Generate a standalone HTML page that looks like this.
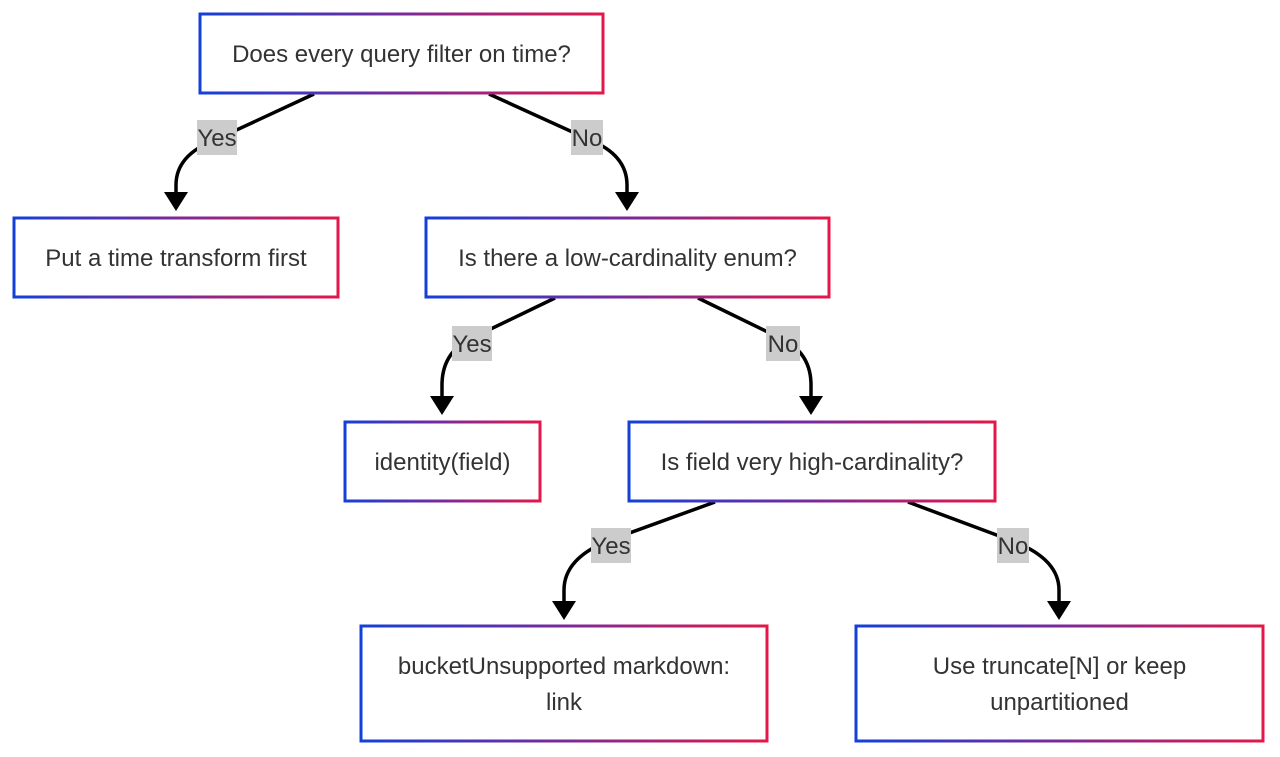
<!DOCTYPE html>
<html><head><meta charset="utf-8"><style>
html,body{margin:0;padding:0;background:#fff;}
svg{display:block;}
text{font-family:"Liberation Sans",Arial,sans-serif;fill:#333;}
</style></head><body>
<svg width="1280" height="757" viewBox="0 0 1280 757" xmlns="http://www.w3.org/2000/svg">
<defs>
<linearGradient id="g" x1="0" y1="0" x2="1" y2="0">
<stop offset="0" stop-color="#1440d8"/>
<stop offset="0.5" stop-color="#7a2a9a"/>
<stop offset="1" stop-color="#e4174a"/>
</linearGradient>
</defs>
<g fill="none" stroke="#000" stroke-width="3.5">
<path d="M314,94 L215,140 Q176,155 176,185 L176,193"/>
<path d="M489,94 L590,140 Q627,155 627,185 L627,193"/>
<path d="M555,298 L472,338 Q442,352 442,385 L442,397"/>
<path d="M698,298 L780,338 Q811,352 811,385 L811,397"/>
<path d="M715,502 L610,540 Q564,558 564,590 L564,602"/>
<path d="M908,502 L1010,540 Q1059,558 1059,590 L1059,602"/>
</g>
<g fill="#000">
<path d="M164,192 L188,192 L176,211 z"/>
<path d="M615,192 L639,192 L627,211 z"/>
<path d="M430,396 L454,396 L442,415 z"/>
<path d="M799,396 L823,396 L811,415 z"/>
<path d="M552,601 L576,601 L564,620 z"/>
<path d="M1047,601 L1071,601 L1059,620 z"/>
</g>
<g fill="#fff" stroke="url(#g)" stroke-width="3">
<rect x="200" y="14" width="403" height="79"/>
<rect x="14" y="218" width="324" height="79"/>
<rect x="426" y="218" width="403" height="79"/>
<rect x="345" y="422" width="195" height="79"/>
<rect x="629" y="422" width="366" height="79"/>
<rect x="361" y="626" width="406" height="115"/>
<rect x="856" y="626" width="407" height="115"/>
</g>
<g fill="#cccccc">
<rect x="197" y="120" width="40" height="35"/>
<rect x="571" y="120" width="32" height="35"/>
<rect x="452" y="326" width="40" height="35"/>
<rect x="766" y="326" width="34" height="35"/>
<rect x="591" y="528" width="40" height="35"/>
<rect x="997" y="528" width="32" height="35"/>
</g>
<g font-size="24" text-anchor="middle">
<text x="217" y="146">Yes</text>
<text x="587" y="146">No</text>
<text x="472" y="352">Yes</text>
<text x="783" y="352">No</text>
<text x="611" y="554">Yes</text>
<text x="1013" y="554">No</text>
<text x="401.5" y="62">Does every query filter on time?</text>
<text x="176" y="266">Put a time transform first</text>
<text x="627.5" y="266">Is there a low-cardinality enum?</text>
<text x="442.5" y="470">identity(field)</text>
<text x="812" y="470">Is field very high-cardinality?</text>
<text x="564" y="674">bucketUnsupported markdown:</text>
<text x="564" y="710">link</text>
<text x="1059.5" y="674">Use truncate[N] or keep</text>
<text x="1059.5" y="710">unpartitioned</text>
</g>
</svg>
</body></html>
